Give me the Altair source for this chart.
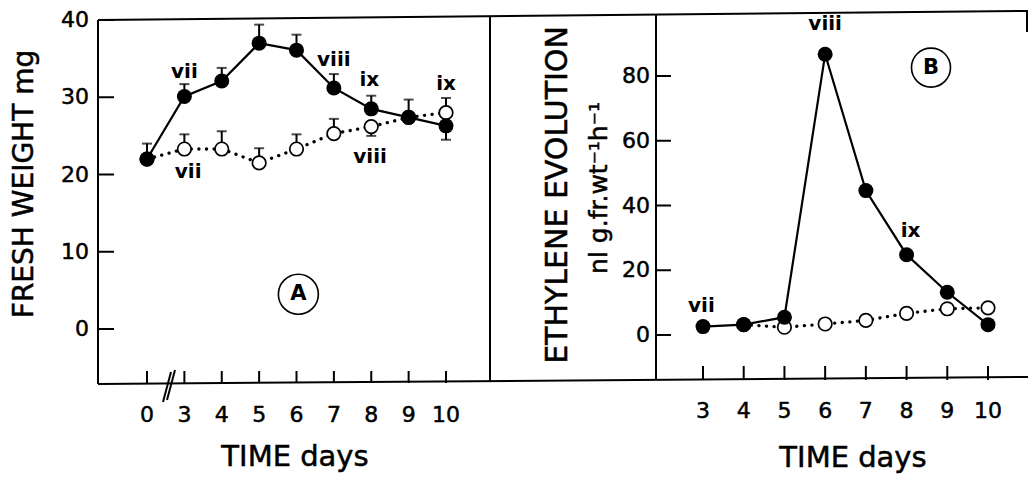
import altair as alt
import pandas as pd

# ---------------- values ----------------
# Panel A: fresh weight (mg) against time (days); filled = solid series, open = dotted series
days_a = [0, 3, 4, 5, 6, 7, 8, 9, 10]
fw_filled = [22.0, 30.1, 32.1, 37.0, 36.1, 31.2, 28.5, 27.4, 26.3]
fw_filled_bar = [2.0, 1.6, 1.7, 2.4, 2.0, 1.8, 1.7, 2.3, -1.8]   # one-sided bars: + up, - down
fw_open = [22.0, 23.3, 23.3, 21.5, 23.3, 25.3, 26.2, 27.4, 28.0]
fw_open_bar = [0.0, 1.9, 2.3, 1.9, 1.9, 1.9, -1.2, 0.0, 1.9]

# Panel B: ethylene evolution
days_b = [3, 4, 5, 6, 7, 8, 9, 10]
eth_filled = [2.6, 3.2, 5.5, 86.7, 44.6, 24.8, 13.2, 3.2]
days_b_open = [4, 5, 6, 7, 8, 9, 10]
eth_open = [3.2, 2.4, 3.4, 4.5, 6.7, 8.1, 8.4]

# tick values / labels
a_y_ticks = [0, 10, 20, 30, 40]
a_x_ticks = [0, 3, 4, 5, 6, 7, 8, 9, 10]
b_y_ticks = [0, 20, 40, 60, 80]
b_x_ticks = [3, 4, 5, 6, 7, 8, 9, 10]

# stage annotations (day, value)
ann_a_text = ["vii", "vii", "viii", "ix", "viii", "ix"]
ann_a_day = [3.0, 3.1, 7.0, 7.95, 7.97, 10.0]
ann_a_val = [33.3, 20.3, 34.8, 32.2, 22.3, 31.7]
ann_b_text = ["vii", "viii", "ix"]
ann_b_day = [2.96, 6.0, 8.1]
ann_b_val = [9.1, 96.0, 32.2]

panel_a_label = ("A", 6.05, 4.5)
panel_b_label = ("B", 8.6, 82.6)

# ---------------- layout ----------------
W, H = 1028, 479
FONT = "DejaVu Sans"
BREAK_POS = 2  # day 0 is drawn at position 2 (broken axis)
TXT_STROKE = 0.5  # slight outline to mimic the heavy print of the original


def apos(d):
    return BREAK_POS if d == 0 else d


# scales: whole canvas is the plot area, each panel has its own scales
xa = alt.Scale(domain=[2 - 147 / 37.375, 2 + (W - 147) / 37.375], nice=False, zero=False)
ya = alt.Scale(domain=[-(H - 329) / 7.725, 329 / 7.725], nice=False, zero=False)
xb = alt.Scale(domain=[3 - 703 / 40.714, 3 + (W - 703) / 40.714], nice=False, zero=False)
yb = alt.Scale(domain=[-(H - 335) / 3.2375, 335 / 3.2375], nice=False, zero=False)


def X(f, sc):
    return alt.X(f, type="quantitative", scale=sc, axis=None)


def Y(f, sc):
    return alt.Y(f, type="quantitative", scale=sc, axis=None)


one = pd.DataFrame({"k": [0]})


def seg(x1, y1, x2, y2, w=2):
    return alt.Chart(one).mark_rule(color="black", strokeWidth=w).encode(
        x=alt.value(x1), y=alt.value(y1), x2=alt.value(x2), y2=alt.value(y2))


def label(txt, x, y, size, angle=0):
    return alt.Chart(one).mark_text(
        text=txt, font=FONT, fontSize=size, angle=angle, align="center", baseline="alphabetic",
        color="black", stroke="black", strokeWidth=TXT_STROKE).encode(
        x=alt.value(x), y=alt.value(y))


# ---------------- frame (shared) ----------------
frame = [
    seg(98, 20, 1028, 11),      # top line
    seg(98, 384, 1028, 377),    # bottom line
    seg(98, 20, 98, 384),       # left edge of A
    seg(490, 16, 490, 381),     # divider
    seg(656, 15, 656, 380),     # y axis line of B
    seg(1027, 11, 1027, 32),    # right edge stub
    seg(163, 402, 171, 372),    # axis break //
    seg(167, 400, 175, 370),
]

# ---------------- panel A ----------------
dfa = pd.DataFrame({"pos": [apos(d) for d in days_a], "filled": fw_filled, "open": fw_open,
                    "fbar": fw_filled_bar, "obar": fw_open_bar})
dfa["fend"] = dfa["filled"] + dfa["fbar"]
dfa["oend"] = dfa["open"] + dfa["obar"]
errf_a = dfa[dfa["fbar"] != 0]
erro_a = dfa[dfa["obar"] != 0]

ayt = pd.DataFrame({"v": a_y_ticks, "lab": [str(v) for v in a_y_ticks]})
axt = pd.DataFrame({"p": [apos(d) for d in a_x_ticks], "lab": [str(d) for d in a_x_ticks]})
anna = pd.DataFrame({"d": ann_a_day, "v": ann_a_val, "t": ann_a_text})
pla = pd.DataFrame({"d": [panel_a_label[1]], "v": [panel_a_label[2]], "t": [panel_a_label[0]]})

tick_txt = dict(font=FONT, fontSize=22, color="black", stroke="black", strokeWidth=TXT_STROKE)

A_layers = [
    alt.Chart(ayt).mark_rule(color="black", strokeWidth=2).encode(
        y=Y("v", ya), x=alt.value(98), x2=alt.value(114)),
    alt.Chart(ayt).mark_text(align="right", baseline="middle", **tick_txt).encode(
        y=Y("v", ya), x=alt.value(89), text="lab:N"),
    alt.Chart(axt).mark_rule(color="black", strokeWidth=2).encode(
        x=X("p", xa), y=alt.value(383), y2=alt.value(371)),
    alt.Chart(axt).mark_text(align="center", baseline="alphabetic", **tick_txt).encode(
        x=X("p", xa), y=alt.value(422), text="lab:N"),
    alt.Chart(dfa).mark_line(color="black", strokeWidth=3.3, strokeDash=[0.1, 7.5],
                             strokeCap="round").encode(x=X("pos", xa), y=Y("open", ya)),
    alt.Chart(dfa).mark_line(color="black", strokeWidth=2.2).encode(
        x=X("pos", xa), y=Y("filled", ya)),
    alt.Chart(errf_a).mark_rule(color="black", strokeWidth=2).encode(
        x=X("pos", xa), y=Y("filled", ya), y2="fend"),
    alt.Chart(errf_a).mark_tick(color="black", orient="horizontal", size=10, thickness=2).encode(
        x=X("pos", xa), y=Y("fend", ya)),
    alt.Chart(erro_a).mark_rule(color="black", strokeWidth=2).encode(
        x=X("pos", xa), y=Y("open", ya), y2="oend"),
    alt.Chart(erro_a).mark_tick(color="black", orient="horizontal", size=10, thickness=2).encode(
        x=X("pos", xa), y=Y("oend", ya)),
    alt.Chart(dfa).mark_point(shape="circle", filled=True, fill="white", stroke="black",
                              strokeWidth=1.7, size=182, opacity=1).encode(
        x=X("pos", xa), y=Y("open", ya)),
    alt.Chart(dfa).mark_point(shape="circle", filled=True, color="black", size=225, opacity=1).encode(
        x=X("pos", xa), y=Y("filled", ya)),
    alt.Chart(anna).mark_text(font=FONT, fontSize=20, fontWeight="bold", baseline="middle").encode(
        x=X("d", xa), y=Y("v", ya), text="t:N"),
    alt.Chart(pla).mark_point(shape="circle", filled=False, color="black", strokeWidth=1.6,
                              size=1600, opacity=1).encode(x=X("d", xa), y=Y("v", ya)),
    alt.Chart(pla).mark_text(font=FONT, fontSize=21, fontWeight="bold", baseline="middle").encode(
        x=X("d", xa), y=Y("v", ya), text="t:N"),
]
panelA = alt.layer(*A_layers)

# ---------------- panel B ----------------
dfbf = pd.DataFrame({"d": days_b, "v": eth_filled})
dfbo = pd.DataFrame({"d": days_b_open, "v": eth_open})
byt = pd.DataFrame({"v": b_y_ticks, "lab": [str(v) for v in b_y_ticks]})
bxt = pd.DataFrame({"p": b_x_ticks, "lab": [str(d) for d in b_x_ticks]})
annb = pd.DataFrame({"d": ann_b_day, "v": ann_b_val, "t": ann_b_text})
plb = pd.DataFrame({"d": [panel_b_label[1]], "v": [panel_b_label[2]], "t": [panel_b_label[0]]})

B_layers = [
    alt.Chart(byt).mark_rule(color="black", strokeWidth=2).encode(
        y=Y("v", yb), x=alt.value(656), x2=alt.value(671)),
    alt.Chart(byt).mark_text(align="right", baseline="middle", **tick_txt).encode(
        y=Y("v", yb), x=alt.value(650), text="lab:N"),
    alt.Chart(bxt).mark_rule(color="black", strokeWidth=2).encode(
        x=X("p", xb), y=alt.value(380), y2=alt.value(366)),
    alt.Chart(bxt).mark_text(align="center", baseline="alphabetic", **tick_txt).encode(
        x=X("p", xb), y=alt.value(418), text="lab:N"),
    alt.Chart(dfbo).mark_line(color="black", strokeWidth=3.3, strokeDash=[0.1, 7.5],
                              strokeCap="round").encode(x=X("d", xb), y=Y("v", yb)),
    alt.Chart(dfbf).mark_line(color="black", strokeWidth=2.2).encode(x=X("d", xb), y=Y("v", yb)),
    alt.Chart(dfbo).mark_point(shape="circle", filled=True, fill="white", stroke="black",
                               strokeWidth=1.7, size=182, opacity=1).encode(
        x=X("d", xb), y=Y("v", yb)),
    alt.Chart(dfbf).mark_point(shape="circle", filled=True, color="black", size=225, opacity=1).encode(
        x=X("d", xb), y=Y("v", yb)),
    alt.Chart(annb).mark_text(font=FONT, fontSize=20, fontWeight="bold", baseline="middle").encode(
        x=X("d", xb), y=Y("v", yb), text="t:N"),
    alt.Chart(plb).mark_point(shape="circle", filled=False, color="black", strokeWidth=1.6,
                              size=1521, opacity=1).encode(x=X("d", xb), y=Y("v", yb)),
    alt.Chart(plb).mark_text(font=FONT, fontSize=21, fontWeight="bold", baseline="middle").encode(
        x=X("d", xb), y=Y("v", yb), text="t:N"),
]
panelB = alt.layer(*B_layers)

# ---------------- titles ----------------
titles = [
    label("FRESH WEIGHT mg", 33, 184, 28, angle=270),
    label("TIME days", 295, 466, 29),
    label("ETHYLENE EVOLUTION", 567, 195, 30, angle=270),
    label("nl g.fr.wt\u207b\u00b9h\u207b\u00b9", 607, 188, 25, angle=270),
    label("TIME days", 853, 467, 29),
]

deco = alt.layer(*frame, *titles)

chart = alt.layer(deco, panelA, panelB).resolve_scale(
    x="independent", y="independent"
).properties(
    width=W, height=H, padding=0, background="white",
    autosize=alt.AutoSizeParams(type="none"),
).configure_view(stroke=None)

chart.save("out.html", embed_options={"renderer": "svg", "actions": False})
